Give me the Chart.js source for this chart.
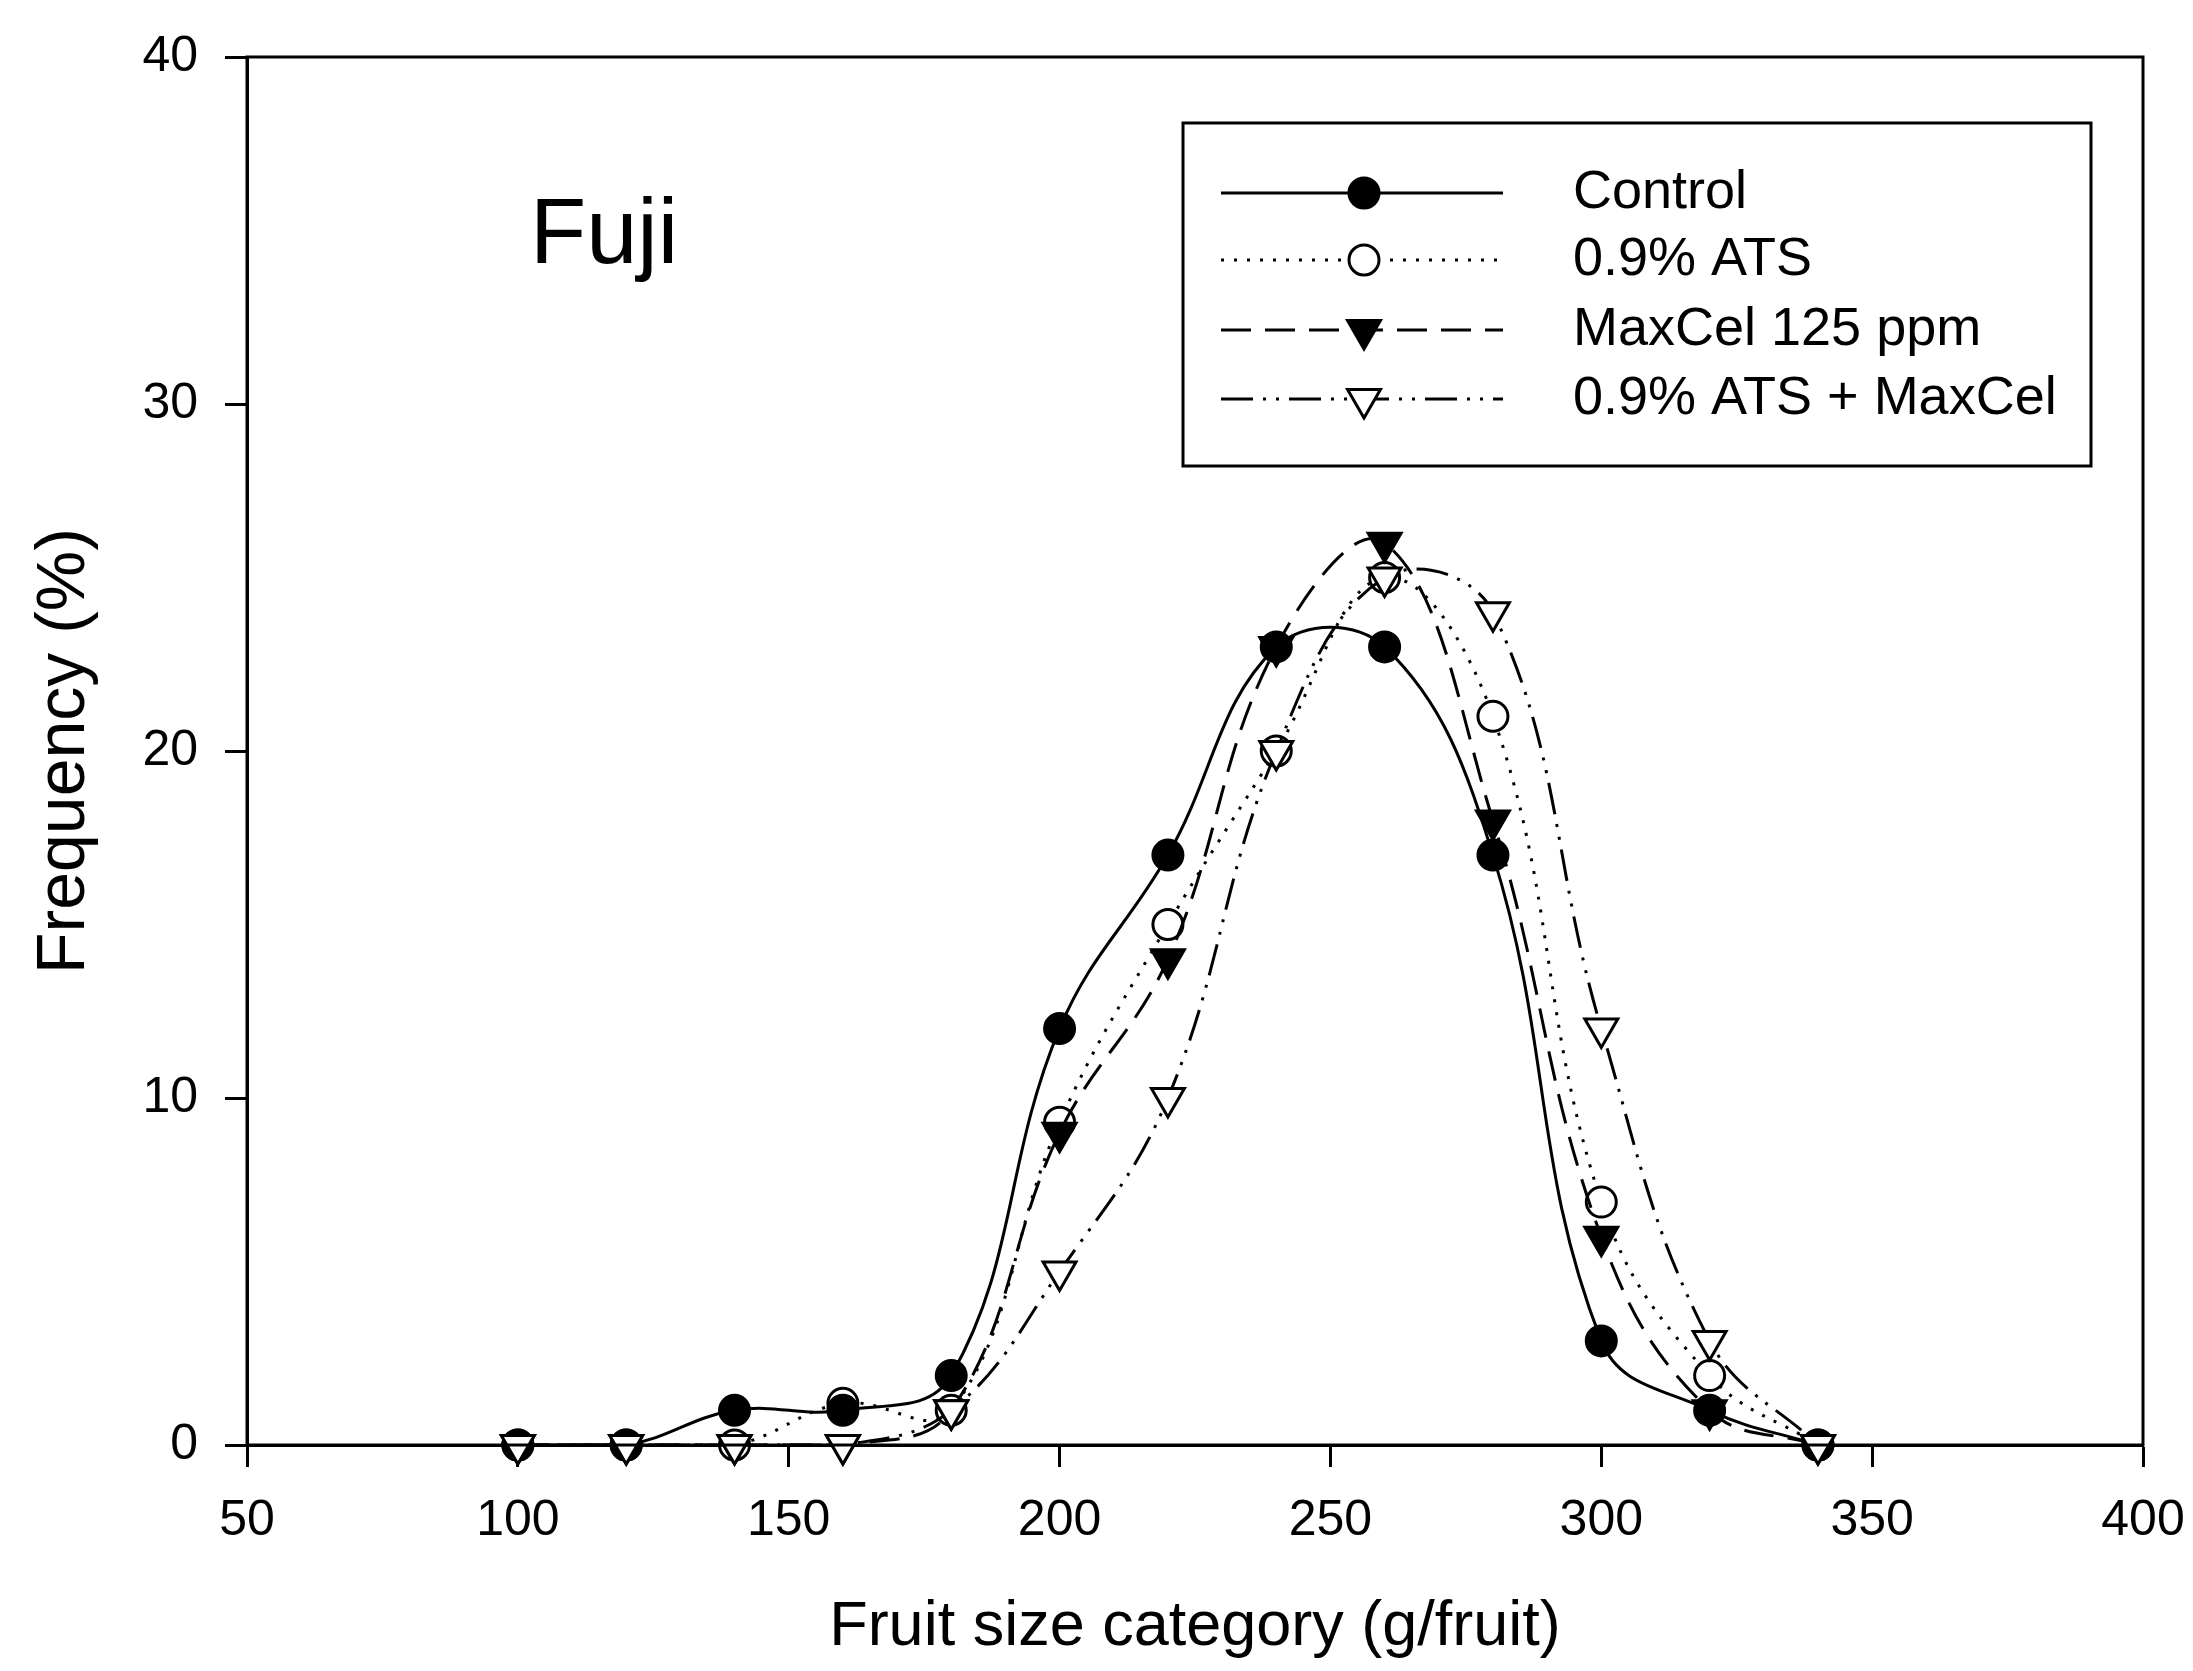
<!DOCTYPE html>
<html lang="en">
<head>
<meta charset="UTF-8">
<title>Fuji - fruit size distribution</title>
<script src="https://cdn.jsdelivr.net/npm/chart.js"></script>
<style>
  html, body { margin: 0; padding: 0; background: #fff; }
  #wrap { width: 2193px; height: 1671px; }
</style>
</head>
<body>
<div id="wrap"><canvas id="fujiChart" width="2193" height="1671"></canvas></div>
<script>
// fruit size categories (g/fruit) and frequency (%) per treatment
const sizeCategories = [100, 120, 140, 160, 180, 200, 220, 240, 260, 280, 300, 320, 340];
const control   = [0, 0, 1, 1, 2, 12, 17, 23, 23, 17, 3, 1, 0];
const ats       = [0, 0, 0, 1.2, 1, 9.3, 15, 20, 25, 21, 7, 2, 0];
const maxcel    = [0, 0, 0, 0, 1, 9, 14, 23, 26, 18, 6, 1, 0];
const atsMaxcel = [0, 0, 0, 0, 1, 5, 10, 20, 25, 24, 12, 3, 0];
const seriesNames = ['Control', '0.9% ATS', 'MaxCel 125 ppm', '0.9% ATS + MaxCel'];
const xTickValues = [50, 100, 150, 200, 250, 300, 350, 400];
const yTickValues = [0, 10, 20, 30, 40];

const FONT = '"Liberation Sans", Arial, sans-serif';
Chart.defaults.font.family = FONT;
Chart.defaults.color = '#000';

const toPoints = ys => sizeCategories.map((x, i) => ({ x: x, y: ys[i] }));

function series(label, ys, style, order) {
    return Object.assign({
        label: label,
        data: toPoints(ys),
        borderColor: '#000',
        borderWidth: 3,
        pointBorderColor: '#000',
        pointBorderWidth: 3,
        tension: 0.4,
        fill: false,
        clip: false,
        order: order
    }, style);
}

// order: lower number is drawn on top
const datasets = [
    series(seriesNames[0], control, { pointStyle: 'circle', pointRadius: 15, pointBackgroundColor: '#000', borderDash: [] }, 3),
    series(seriesNames[1], ats, { pointStyle: 'circle', pointRadius: 15, pointBackgroundColor: '#fff', borderDash: [3, 10] }, 4),
    series(seriesNames[2], maxcel, { pointStyle: 'triangle', pointRotation: 180, pointRadius: 19, pointBackgroundColor: '#000', borderDash: [30, 14] }, 2),
    series(seriesNames[3], atsMaxcel, { pointStyle: 'triangle', pointRotation: 180, pointRadius: 19, pointBackgroundColor: '#fff', borderDash: [32, 10, 3, 10, 3, 10] }, 1)
];

// frame, "Fuji" label and the boxed legend
const decorPlugin = {
    id: 'decor',
    afterDraw(chart) {
        const ctx = chart.ctx;
        const a = chart.chartArea;
        ctx.save();
        ctx.strokeStyle = '#000';
        ctx.lineWidth = 3;
        ctx.setLineDash([]);
        ctx.strokeRect(a.left, a.top, a.right - a.left, a.bottom - a.top);

        ctx.fillStyle = '#000';
        ctx.font = '92px ' + FONT;
        ctx.textBaseline = 'alphabetic';
        ctx.fillText('Fuji', 530, 263);

        // legend box
        ctx.fillStyle = '#fff';
        ctx.fillRect(1183, 123, 908, 343);
        ctx.strokeRect(1183, 123, 908, 343);
        const rows = [193, 260, 330, 399];
        chart.data.datasets.forEach((ds, i) => {
            const y = rows[i];
            ctx.lineWidth = 3;
            ctx.strokeStyle = '#000';
            ctx.setLineDash(ds.borderDash);
            ctx.beginPath();
            ctx.moveTo(1221, y);
            ctx.lineTo(1503, y);
            ctx.stroke();
            ctx.setLineDash([]);
            ctx.fillStyle = ds.pointBackgroundColor;
            Chart.helpers.drawPoint(ctx, {
                pointStyle: ds.pointStyle,
                rotation: ds.pointRotation || 0,
                radius: ds.pointRadius,
                borderWidth: 3
            }, 1364, y);
            ctx.fillStyle = '#000';
            ctx.font = '54px ' + FONT;
            ctx.textBaseline = 'middle';
            ctx.fillText(ds.label, 1573, y);
        });
        ctx.restore();
    }
};

new Chart(document.getElementById('fujiChart'), {
    type: 'line',
    data: { datasets: datasets },
    plugins: [decorPlugin],
    options: {
        responsive: false,
        animation: false,
        devicePixelRatio: 1,
        layout: { padding: { left: 0, top: 57, right: 50, bottom: 0 } },
        plugins: { legend: { display: false }, tooltip: { enabled: false } },
        scales: {
            x: {
                type: 'linear',
                min: 50,
                max: 400,
                afterBuildTicks: s => { s.ticks = xTickValues.map(v => ({ value: v })); },
                afterFit: s => { s.height = 226; s.paddingLeft = 0; s.paddingRight = 0; },
                grid: { drawOnChartArea: false, drawTicks: true, tickLength: 22, tickWidth: 3, tickColor: '#000' },
                border: { display: true, color: '#000', width: 3 },
                ticks: { color: '#000', font: { size: 50 }, padding: 24, maxRotation: 0, autoSkip: false },
                title: { display: true, text: 'Fruit size category (g/fruit)', color: '#000', font: { size: 63 }, padding: { top: 0, bottom: 6 } }
            },
            y: {
                min: 0,
                max: 40,
                afterBuildTicks: s => { s.ticks = yTickValues.map(v => ({ value: v })); },
                afterFit: s => { s.width = 247; s.paddingTop = 0; s.paddingBottom = 0; },
                grid: { drawOnChartArea: false, drawTicks: true, tickLength: 22, tickWidth: 3, tickColor: '#000' },
                border: { display: true, color: '#000', width: 3 },
                ticks: { color: '#000', font: { size: 50 }, padding: 27 },
                title: { display: true, text: 'Frequency (%)', color: '#000', font: { size: 68 }, padding: { top: 24, bottom: 0 } }
            }
        }
    }
});
</script>
</body>
</html>
